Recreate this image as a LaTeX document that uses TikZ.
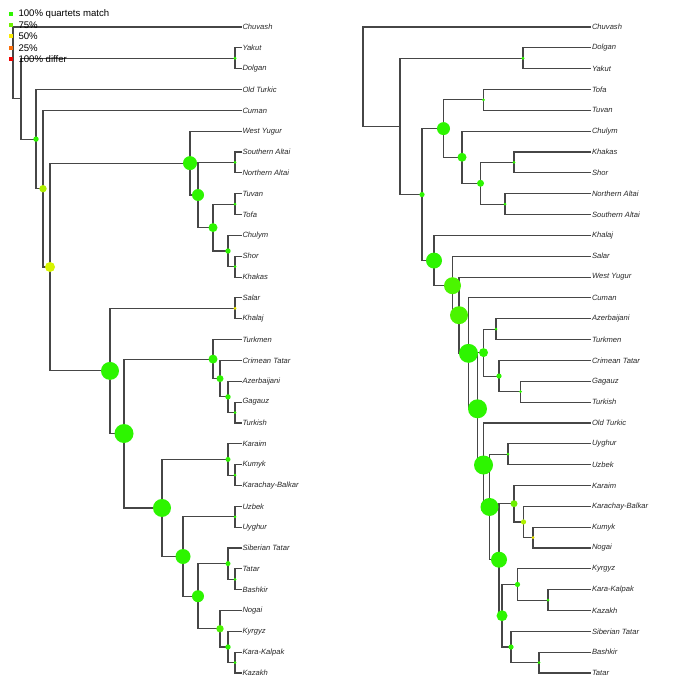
\documentclass[tikz,border=0pt]{standalone}
\usepackage{fontspec}
\setmainfont{Liberation Sans}
\usetikzlibrary{calc}
\definecolor{edgecol}{RGB}{70,70,70}
\definecolor{labcol}{RGB}{40,40,40}
\definecolor{qa}{RGB}{45,245,0}    % 100% quartets match
\definecolor{qb}{RGB}{110,240,0}   % 75%
\definecolor{qc}{RGB}{250,235,0}   % 50%
\definecolor{qd}{RGB}{250,110,10}  % 25%
\definecolor{qe}{RGB}{240,0,0}     % 100% differ
\definecolor{qab}{RGB}{75,245,0}
\definecolor{qbc}{RGB}{175,240,0}
\definecolor{qbcc}{RGB}{215,245,0}
\definecolor{qcy}{RGB}{235,230,0}
\tikzset{
  edge/.style={draw=edgecol, line width=1.1pt},
  leaf/.style={anchor=west, inner sep=0.8pt, text=labcol,
    font=\fontsize{7.6}{9}\selectfont\itshape},
  legtext/.style={anchor=west, inner sep=0pt, text=black,
    font=\fontsize{9.6}{11}\selectfont},
}
\newcommand\qdot[3]{\fill[#1] (#2) circle[radius=#3pt];}
\newcommand\lsq[3]{\fill[#1] ($(#2)+(-2,-2)$) rectangle ($(#2)+(2,2)$);}
\begin{document}
\begin{tikzpicture}[x=1pt,y=-1pt]
\useasboundingbox (0,0) rectangle (700,700);
\fill[white] (0,0) rectangle (700,700);

% ---------------- left tree: leaves ----------------
\foreach \nm/\yy/\tx in {
  LChuvash/27.0/Chuvash, LYakut/47.8/Yakut, LDolgan/68.7/Dolgan,
  LOldTurkic/89.5/Old Turkic, LCuman/110.4/Cuman, LWestYugur/131.2/West Yugur,
  LSAltai/152.0/Southern Altai, LNAltai/172.9/Northern Altai, LTuvan/193.7/Tuvan,
  LTofa/214.6/Tofa, LChulym/235.4/Chulym, LShor/256.2/Shor, LKhakas/277.1/Khakas,
  LSalar/297.9/Salar, LKhalaj/318.8/Khalaj, LTurkmen/339.6/Turkmen,
  LCrimean/360.4/Crimean Tatar, LAzerbaijani/381.3/Azerbaijani, LGagauz/402.1/Gagauz,
  LTurkish/423.0/Turkish, LKaraim/443.8/Karaim, LKumyk/464.6/Kumyk,
  LKarachay/485.5/Karachay-Balkar, LUzbek/506.3/Uzbek, LUyghur/527.2/Uyghur,
  LSibTatar/548.0/Siberian Tatar, LTatar/568.8/Tatar, LBashkir/589.7/Bashkir,
  LNogai/610.5/Nogai, LKyrgyz/631.4/Kyrgyz, LKaraKalpak/652.2/Kara-Kalpak,
  LKazakh/673.0/Kazakh}
  \node[leaf] (\nm) at (241.5,\yy) {\tx};

% ---------------- left tree: internal nodes ----------------
\coordinate (LYD)   at (235,58.25);
\coordinate (LAlt)  at (235,162.45);
\coordinate (LTT)   at (235,204.15);
\coordinate (LSK)   at (235,266.65);
\coordinate (LChS)  at (228,251.0);
\coordinate (LTC)   at (213,227.6);
\coordinate (LAT)   at (198,195.0);
\coordinate (LWY)   at (190,163.1);
\coordinate (LSal)  at (235,308.35);
\coordinate (LGT)   at (235,412.55);
\coordinate (LAz)   at (228,396.9);
\coordinate (LCr)   at (220,378.65);
\coordinate (LTk)   at (213,359.1);
\coordinate (LKB)   at (235,475.05);
\coordinate (LKa)   at (228,459.4);
\coordinate (LUU)   at (235,516.75);
\coordinate (LTB)   at (235,579.25);
\coordinate (LST)   at (228,563.6);
\coordinate (LKK)   at (235,662.6);
\coordinate (LKy)   at (228,647.0);
\coordinate (LNo)   at (220,628.75);
\coordinate (LSN)   at (198,596.2);
\coordinate (LUz)   at (183,556.5);
\coordinate (LKar)  at (162,507.95);
\coordinate (LOg)   at (124,433.5);
\coordinate (LSO)   at (110,370.9);
\coordinate (LBig)  at (50,267.0);
\coordinate (LCu)   at (43,188.7);
\coordinate (LOT)   at (36,139.1);
\coordinate (LYk)   at (21,98.7);
\coordinate (LRoot) at (13,62.85);

% ---------------- left tree: branches ----------------
\foreach \p/\c in {
  LRoot/LChuvash.west, LRoot/LYk,
  LYk/LYD, LYk/LOT,
  LYD/LYakut.west, LYD/LDolgan.west,
  LOT/LOldTurkic.west, LOT/LCu,
  LCu/LCuman.west, LCu/LBig,
  LBig/LWY, LBig/LSO,
  LWY/LWestYugur.west, LWY/LAT,
  LAT/LAlt, LAT/LTC,
  LAlt/LSAltai.west, LAlt/LNAltai.west,
  LTC/LTT, LTC/LChS,
  LTT/LTuvan.west, LTT/LTofa.west,
  LChS/LChulym.west, LChS/LSK,
  LSK/LShor.west, LSK/LKhakas.west,
  LSO/LSal, LSO/LOg,
  LSal/LSalar.west, LSal/LKhalaj.west,
  LOg/LTk, LOg/LKar,
  LTk/LTurkmen.west, LTk/LCr,
  LCr/LCrimean.west, LCr/LAz,
  LAz/LAzerbaijani.west, LAz/LGT,
  LGT/LGagauz.west, LGT/LTurkish.west,
  LKar/LKa, LKar/LUz,
  LKa/LKaraim.west, LKa/LKB,
  LKB/LKumyk.west, LKB/LKarachay.west,
  LUz/LUU, LUz/LSN,
  LUU/LUzbek.west, LUU/LUyghur.west,
  LSN/LST, LSN/LNo,
  LST/LSibTatar.west, LST/LTB,
  LTB/LTatar.west, LTB/LBashkir.west,
  LNo/LNogai.west, LNo/LKy,
  LKy/LKyrgyz.west, LKy/LKK,
  LKK/LKaraKalpak.west, LKK/LKazakh.west}
  \draw[edge] (\p) |- (\c);

% ---------------- left tree: support dots ----------------
\qdot{qa}{LYD}{1.6}
\qdot{qa}{LOT}{2.7}
\qdot{qbc}{LCu}{3.7}
\qdot{qbcc}{LBig}{5}
\qdot{qa}{LWY}{7}
\qdot{qa}{LAlt}{1.5}
\qdot{qa}{LAT}{6}
\qdot{qa}{LTT}{1.5}
\qdot{qa}{LTC}{4.5}
\qdot{qa}{LChS}{2.7}
\qdot{qa}{LSK}{1.5}
\qdot{qcy}{LSal}{1.6}
\qdot{qa}{LSO}{9}
\qdot{qa}{LOg}{9.5}
\qdot{qa}{LTk}{4.5}
\qdot{qa}{LCr}{3.5}
\qdot{qa}{LAz}{2.7}
\qdot{qa}{LGT}{1.5}
\qdot{qa}{LKa}{2.5}
\qdot{qa}{LKB}{1.5}
\qdot{qa}{LKar}{9}
\qdot{qa}{LUU}{1.5}
\qdot{qa}{LUz}{7.5}
\qdot{qa}{LSN}{6}
\qdot{qa}{LST}{2.5}
\qdot{qa}{LTB}{1.5}
\qdot{qab}{LNo}{3.7}
\qdot{qa}{LKy}{2.7}
\qdot{qa}{LKK}{1.5}

% ---------------- right tree: leaves ----------------
\foreach \nm/\yy/\tx in {
  RChuvash/27.0/Chuvash, RDolgan/47.8/Dolgan, RYakut/68.7/Yakut,
  RTofa/89.5/Tofa, RTuvan/110.4/Tuvan, RChulym/131.2/Chulym,
  RKhakas/152.0/Khakas, RShor/172.9/Shor, RNAltai/193.7/Northern Altai,
  RSAltai/214.6/Southern Altai, RKhalaj/235.4/Khalaj, RSalar/256.2/Salar,
  RWestYugur/277.1/West Yugur, RCuman/297.9/Cuman, RAzerbaijani/318.8/Azerbaijani,
  RTurkmen/339.6/Turkmen, RCrimean/360.4/Crimean Tatar, RGagauz/381.3/Gagauz,
  RTurkish/402.1/Turkish, ROldTurkic/423.0/Old Turkic, RUyghur/443.8/Uyghur,
  RUzbek/464.6/Uzbek, RKaraim/485.5/Karaim, RKarachay/506.3/Karachay-Balkar,
  RKumyk/527.2/Kumyk, RNogai/548.0/Nogai, RKyrgyz/568.8/Kyrgyz,
  RKaraKalpak/589.7/Kara-Kalpak, RKazakh/610.5/Kazakh, RSibTatar/631.4/Siberian Tatar,
  RBashkir/652.2/Bashkir, RTatar/673.0/Tatar}
  \node[leaf] (\nm) at (591,\yy) {\tx};

% ---------------- right tree: internal nodes ----------------
\coordinate (RDY)   at (523,58.25);
\coordinate (RTT)   at (483.5,99.95);
\coordinate (RKS)   at (514,162.45);
\coordinate (RNS)   at (505,204.15);
\coordinate (RSA)   at (480.5,183.3);
\coordinate (RCh)   at (462,157.25);
\coordinate (RTo)   at (443.5,128.6);
\coordinate (RAT)   at (496,329.2);
\coordinate (RGT)   at (520.5,391.7);
\coordinate (RCr)   at (499,376.05);
\coordinate (RAz)   at (483.5,352.6);
\coordinate (RUU)   at (508,454.2);
\coordinate (RKN)   at (533,537.6);
\coordinate (RKB)   at (523.5,521.95);
\coordinate (RKa)   at (514,503.7);
\coordinate (RKKz)  at (548,600.1);
\coordinate (RKy)   at (517.5,584.45);
\coordinate (RBT)   at (539,662.6);
\coordinate (RST)   at (511,647.0);
\coordinate (RKyS)  at (502,615.7);
\coordinate (RKaK)  at (499,559.7);
\coordinate (RUz)   at (489.5,506.95);
\coordinate (ROT)   at (483.5,465.0);
\coordinate (RAO)   at (477.5,408.8);
\coordinate (RCu)   at (468.5,353.35);
\coordinate (RWY)   at (459,315.2);
\coordinate (RSal)  at (452.5,285.7);
\coordinate (RKh)   at (434,260.55);
\coordinate (RTu)   at (422,194.6);
\coordinate (RDo)   at (400,126.4);
\coordinate (RRoot) at (363,76.7);

% ---------------- right tree: branches ----------------
\foreach \p/\c in {
  RRoot/RChuvash.west, RRoot/RDo,
  RDo/RDY, RDo/RTu,
  RDY/RDolgan.west, RDY/RYakut.west,
  RTu/RTo, RTu/RKh,
  RTo/RTT, RTo/RCh,
  RTT/RTofa.west, RTT/RTuvan.west,
  RCh/RChulym.west, RCh/RSA,
  RSA/RKS, RSA/RNS,
  RKS/RKhakas.west, RKS/RShor.west,
  RNS/RNAltai.west, RNS/RSAltai.west,
  RKh/RKhalaj.west, RKh/RSal,
  RSal/RSalar.west, RSal/RWY,
  RWY/RWestYugur.west, RWY/RCu,
  RCu/RCuman.west, RCu/RAO,
  RAO/RAz, RAO/ROT,
  RAz/RAT, RAz/RCr,
  RAT/RAzerbaijani.west, RAT/RTurkmen.west,
  RCr/RCrimean.west, RCr/RGT,
  RGT/RGagauz.west, RGT/RTurkish.west,
  ROT/ROldTurkic.west, ROT/RUz,
  RUz/RUU, RUz/RKaK,
  RUU/RUyghur.west, RUU/RUzbek.west,
  RKaK/RKa, RKaK/RKyS,
  RKa/RKaraim.west, RKa/RKB,
  RKB/RKarachay.west, RKB/RKN,
  RKN/RKumyk.west, RKN/RNogai.west,
  RKyS/RKy, RKyS/RST,
  RKy/RKyrgyz.west, RKy/RKKz,
  RKKz/RKaraKalpak.west, RKKz/RKazakh.west,
  RST/RSibTatar.west, RST/RBT,
  RBT/RBashkir.west, RBT/RTatar.west}
  \draw[edge] (\p) |- (\c);

% ---------------- right tree: support dots ----------------
\qdot{qa}{RDY}{1.6}
\qdot{qa}{RTu}{2.6}
\qdot{qa}{RTo}{6.5}
\qdot{qa}{RTT}{1.5}
\qdot{qa}{RCh}{4.5}
\qdot{qa}{RSA}{3.5}
\qdot{qa}{RKS}{1.5}
\qdot{qa}{RNS}{1.5}
\qdot{qa}{RKh}{8}
\qdot{qab}{RSal}{8.5}
\qdot{qab}{RWY}{9}
\qdot{qa}{RCu}{9.5}
\qdot{qa}{RAO}{9.5}
\qdot{qa}{RAz}{4.5}
\qdot{qa}{RAT}{1.5}
\qdot{qa}{RCr}{2.6}
\qdot{qa}{RGT}{1.5}
\qdot{qa}{ROT}{9.5}
\qdot{qa}{RUU}{1.5}
\qdot{qa}{RUz}{9}
\qdot{qa}{RKaK}{8}
\qdot{qb}{RKa}{3.5}
\qdot{qbc}{RKB}{2.6}
\qdot{qcy}{RKN}{1.6}
\qdot{qa}{RKyS}{5.5}
\qdot{qa}{RKy}{2.6}
\qdot{qa}{RKKz}{1.5}
\qdot{qa}{RST}{2.6}
\qdot{qa}{RBT}{1.5}

% ---------------- legend ----------------
\coordinate (k1) at (10.5,13.6);
\coordinate (k2) at (10.5,25.0);
\coordinate (k3) at (10.5,36.4);
\coordinate (k4) at (10.5,47.8);
\coordinate (k5) at (10.5,59.2);
\lsq{qa}{k1}{}
\lsq{qb}{k2}{}
\lsq{qc}{k3}{}
\lsq{qd}{k4}{}
\lsq{qe}{k5}{}
\node[legtext] (t1) at ($(k1)+(7.8,0)$) {100\% quartets match};
\node[legtext] (t2) at ($(k2)+(7.8,0)$) {75\%};
\node[legtext] (t3) at ($(k3)+(7.8,0)$) {50\%};
\node[legtext] (t4) at ($(k4)+(7.8,0)$) {25\%};
\node[legtext] (t5) at ($(k5)+(7.8,0)$) {100\% differ};
\end{tikzpicture}
\end{document}
